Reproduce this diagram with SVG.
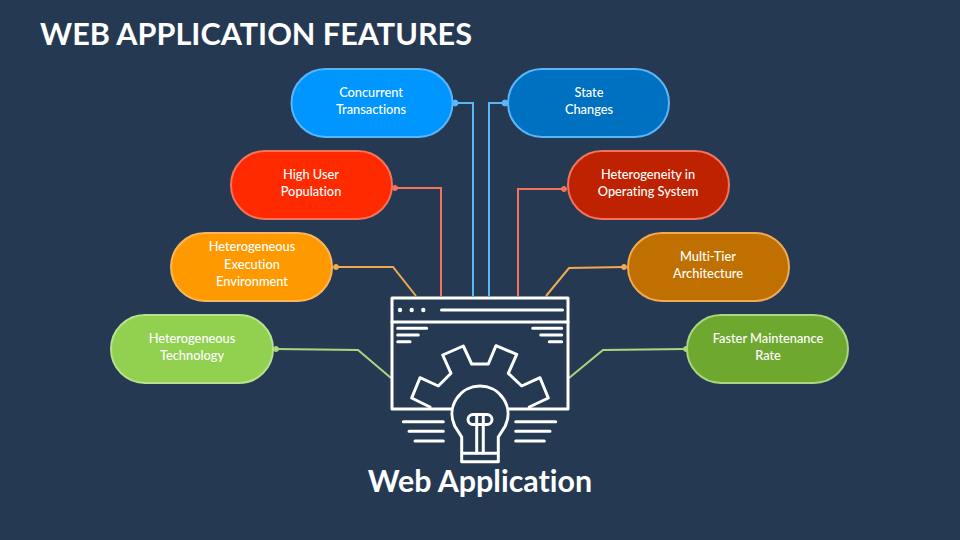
<svg xmlns="http://www.w3.org/2000/svg" width="960" height="540" viewBox="0 0 960 540">
<style>
text{font-family:Lato,Carlito,"Open Sans",sans-serif;fill:#fff;font-variant-ligatures:none}
.lbl{font-size:12.8px;font-weight:500;text-anchor:middle}
.pill{stroke-width:2}
.wire{fill:none;stroke-width:2}
.ico{fill:none;stroke:#fff;stroke-width:3;stroke-linecap:round;stroke-linejoin:round}
</style>
<rect width="960" height="540" fill="#253a52"/>
<text x="40" y="45" font-size="30.6" font-weight="700">WEB APPLICATION FEATURES</text>

<g id="connectors">
<g stroke="#5bb5fa" fill="#5bb5fa"><path class="wire" d="M455 103H473V296"/><circle cx="455" cy="103" r="3"/><path class="wire" d="M505 103H489V296"/><circle cx="505" cy="103" r="3"/></g>
<g stroke="#f4735c" fill="#f4735c"><path class="wire" d="M395 188H441V296"/><circle cx="395" cy="188" r="2.5"/><path class="wire" d="M564 189H518V296"/><circle cx="564" cy="189" r="2.5"/></g>
<g stroke="#f2a950" fill="#f2a950"><path class="wire" d="M336 267H393L416 296"/><circle cx="336" cy="267" r="2.5"/><path class="wire" d="M624 267L569 268L546 296"/><circle cx="624" cy="267" r="2.5"/></g>
<g stroke="#a9d67e" fill="#a9d67e"><path class="wire" d="M276 349L358 350L391 378"/><circle cx="276" cy="349" r="2.5"/><path class="wire" d="M686 349L603 350L569 378"/><circle cx="686" cy="349" r="2.5"/></g>
</g>

<g id="concurrent"><rect class="pill" x="291.500" y="69" width="161" height="68" rx="34" fill="#0096ff" stroke="#5bb5fa"/><text class="lbl" x="371" y="97">Concurrent</text><text class="lbl" x="371" y="114">Transactions</text></g>
<g id="state"><rect class="pill" x="508" y="69" width="161" height="68" rx="34" fill="#0070c0" stroke="#5bb5fa"/><text class="lbl" x="589" y="97">State</text><text class="lbl" x="589" y="114">Changes</text></g>
<g id="users"><rect class="pill" x="231" y="151" width="161" height="68" rx="34" fill="#ff2a00" stroke="#f4735c"/><text class="lbl" x="311" y="179">High User</text><text class="lbl" x="311" y="196">Population</text></g>
<g id="os"><rect class="pill" x="568" y="151" width="161" height="68" rx="34" fill="#bf2200" stroke="#f4735c"/><text class="lbl" x="648" y="179">Heterogeneity in</text><text class="lbl" x="648" y="196">Operating System</text></g>
<g id="execution"><rect class="pill" x="171" y="233" width="161" height="68" rx="34" fill="#ff9900" stroke="#f9b65c"/><text class="lbl" x="252" y="251">Heterogeneous</text><text class="lbl" x="252" y="269">Execution</text><text class="lbl" x="252" y="286">Environment</text></g>
<g id="tier"><rect class="pill" x="628" y="233" width="161" height="68" rx="34" fill="#bf7000" stroke="#f2a950"/><text class="lbl" x="708" y="261">Multi-Tier</text><text class="lbl" x="708" y="278">Architecture</text></g>
<g id="technology"><rect class="pill" x="111" y="315" width="162" height="68" rx="34" fill="#92d050" stroke="#b8e08e"/><text class="lbl" x="192" y="343">Heterogeneous</text><text class="lbl" x="192" y="360">Technology</text></g>
<g id="maintenance"><rect class="pill" x="687" y="315" width="161" height="68" rx="34" fill="#6fa82f" stroke="#a9d67e"/><text class="lbl" x="768" y="343">Faster Maintenance</text><text class="lbl" x="768" y="360">Rate</text></g>

<g id="web-application">
<g class="ico">
<path d="M451 409H392V298H568V409H509"/>
<path d="M392 322H568"/>
<path d="M441.500 310H562.500M397.700 328.300H426.700M397.700 335H418.300M397.700 341.700H410M532.700 328.300H561.700M540.700 335H561.700M549.300 341.700H561.700"/>
<path d="M430 407L411.700 398L420 377.700L438.300 386L451 373.300L442.700 355L463.300 346L471.700 364H488.300L496 345.700L516.700 354.300L508.300 373.300L521.700 386L540 377.700L548.300 398L529.300 407"/>
<path d="M461.700 437L454.700 426A28 28 0 1 1 505.300 426L498.300 437V461.700H461.700ZM461.700 453.300H498.300"/>
<path d="M473 414.500H487A5 5 0 0 1 487 424.500H473A5 5 0 0 1 473 414.500ZM476.700 414.500V453M483.300 414.500V453"/>
<path d="M403.300 421.700H443.300M409 431.300H443.300M415 441H443.300M515.700 421.700H555.700M515.700 431.300H550M515.700 441H544.300"/>
</g>
<g fill="#fff"><circle cx="400" cy="310" r="2.200"/><circle cx="411.700" cy="310" r="2.200"/><circle cx="423.300" cy="310" r="2.200"/></g>
<text x="480" y="492" font-size="30.4" font-weight="700" text-anchor="middle">Web Application</text>
</g>
</svg>
